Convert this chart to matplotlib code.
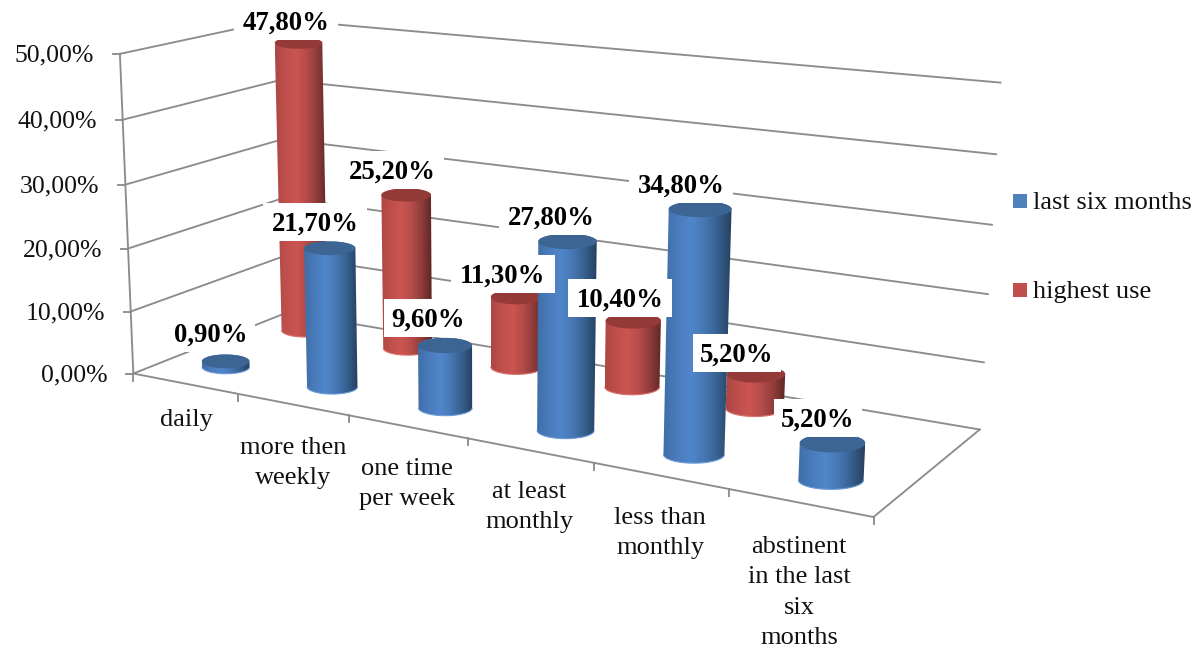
import numpy as np
import matplotlib
matplotlib.use("Agg")
import matplotlib.pyplot as plt
from matplotlib.colors import LinearSegmentedColormap
from matplotlib.patches import Polygon, Rectangle

plt.rcParams['font.family'] = ['Liberation Serif', 'DejaVu Serif']

categories = ["daily", "more then\nweekly", "one time\nper week", "at least\nmonthly",
              "less than\nmonthly", "abstinent\nin the last\nsix\nmonths"]
last_six_months = [0.9, 21.7, 9.6, 27.8, 34.8, 5.2]
highest_use = [47.8, 25.2, 11.3, 10.4, 5.2, None]
value_ticks = [0, 10, 20, 30, 40, 50]

GRID = '#8c8c8c'
LINE_W = 1.35
FONT_AXIS = 18.5
FONT_TEXT = 19
FONT_LABEL = 19.3

# box corners (category, depth, value) -> picture pixels, used to fit the 3d view
view_world = [(0, 0, 0), (0, 0, 50), (0, 1, 0), (0, 1, 50), (6, 1, 0), (6, 1, 50), (6, 0, 0),
              (1, 0, 0), (2, 0, 0), (3, 0, 0), (4, 0, 0)]
view_pixel = [(135, 372), (118, 53), (284, 314), (282, 20), (981, 427), (1000, 83), (873, 517),
              (239, 392), (350, 416), (467, 440), (593, 465)]


def fit_view(world, pixel):
    rows = []
    for (x, z, y), (u, v) in zip(world, pixel):
        p = [x, z, y, 1]
        rows.append(p + [0, 0, 0, 0] + [-u * c for c in p])
        rows.append([0, 0, 0, 0] + p + [-v * c for c in p])
    return np.linalg.svd(np.array(rows, dtype=float))[2][-1].reshape(3, 4)


VIEW = fit_view(view_world, view_pixel)


def project(x, z, y):
    x, z, y = np.broadcast_arrays(x, z, y)
    h = VIEW @ np.vstack([x.ravel(), z.ravel(), y.ravel(), np.ones(x.size)])
    return np.column_stack([h[0] / h[2], h[1] / h[2]])


def hull(points):
    pts = sorted(map(tuple, points))
    def half(seq):
        out = []
        for p in seq:
            while len(out) > 1 and ((out[-1][0] - out[-2][0]) * (p[1] - out[-2][1])
                                    - (out[-1][1] - out[-2][1]) * (p[0] - out[-2][0])) <= 0:
                out.pop()
            out.append(p)
        return out[:-1]
    return np.array(half(pts) + half(pts[::-1]))


def ellipse(x, depth, value):
    # the reference draws cylinder ends as level ellipses, a bit flatter higher up
    t = np.linspace(0, 2 * np.pi, 90)
    left, mid, right = project([x - 0.23, x, x + 0.23], depth, value)
    rx = (right[0] - left[0]) / 2
    ry = rx * (0.29 - 0.001 * value)
    return np.column_stack([mid[0] + rx * np.cos(t), mid[1] + ry * np.sin(t)])


def cylinder(ax, x, depth, value, side_cmap, top_color, rim_color):
    bottom = ellipse(x, depth, 0)
    top = ellipse(x, depth, value)
    outline = hull(np.vstack([bottom, top]))
    body = Polygon(outline, closed=True, fc='none', ec='none', transform=ax.transData)
    ax.add_patch(body)
    im = ax.imshow(np.linspace(0, 1, 128)[None, :], cmap=side_cmap, aspect='auto', zorder=3,
                   extent=(outline[:, 0].min(), outline[:, 0].max(), outline[:, 1].max(), outline[:, 1].min()))
    im.set_clip_path(body)
    low = bottom[bottom[:, 1] >= bottom[:, 1].mean()]
    low = low[np.argsort(low[:, 0])]
    ax.plot(low[:, 0], low[:, 1], color=rim_color, lw=0.8, zorder=3)
    ax.add_patch(Polygon(top, closed=True, fc=top_color, ec='none', zorder=3))


blue_side = LinearSegmentedColormap.from_list('b', ['#3f6ea8', '#4a7cbc', '#5086ca', '#4778b4', '#36608f', '#26405f'])
red_side = LinearSegmentedColormap.from_list('r', ['#ad4744', '#bf4f4c', '#cb5551', '#b54c49', '#8f3c3a', '#5c2625'])

fig = plt.figure(figsize=(11.94, 6.48), dpi=100)
ax = fig.add_axes([0, 0, 1, 1])

# walls and floor
for v in value_ticks:
    corner = project([0, 0, 6], [0, 1, 1], v)
    ax.plot(corner[:, 0], corner[:, 1], color=GRID, lw=LINE_W, zorder=1)
    stub = project(0, 0, v)[0]
    ax.plot([stub[0] - 7, stub[0]], [stub[1], stub[1]], color=GRID, lw=LINE_W, zorder=1)
    ax.text(stub[0] - 26, stub[1] + 2, f"{v},00%", ha='right', va='center', fontsize=FONT_AXIS, color='#111111')
axis_line = project([0, 0], [0, 0], [0, 50])
ax.plot(axis_line[:, 0], axis_line[:, 1], color=GRID, lw=LINE_W, zorder=1)
floor = project([0, 6, 6], [0, 0, 1], [0, 0, 0])
ax.plot(floor[:, 0], floor[:, 1], color=GRID, lw=LINE_W, zorder=1)
for i in range(len(categories) + 1):
    p = project(i, 0, 0)[0]
    ax.plot([p[0], p[0]], [p[1], p[1] + 7], color=GRID, lw=LINE_W, zorder=1)

# back row first, then the front row
for i, v in enumerate(highest_use):
    if v is not None:
        cylinder(ax, i + 0.44, 0.82, v, red_side, '#943a38', '#d9706c')
for i, v in enumerate(last_six_months):
    cylinder(ax, i + 0.505, 0.25, v, blue_side, '#3d6594', '#6a9bd8')

# category labels
label_x = [186, 293, 407, 529, 660, 799]
label_top = [409, 437, 458, 481, 507, 536]
for name, x, y in zip(categories, label_x, label_top):
    ax.text(x, y, name, ha='center', va='top', fontsize=FONT_TEXT, linespacing=1.49, color='#111111')

# value labels with their white boxes
blue_label_xy = [(211, 335), (315, 224), (428, 320), (551, 218), (681, 186), (818, 420)]
red_label_xy = [(286, 23), (392, 172), (503, 276), (620, 300), (737, 355)]
values = list(last_six_months) + [v for v in highest_use if v is not None]
for v, (x, y) in zip(values, blue_label_xy + red_label_xy):
    text = f"{v:.2f}%".replace('.', ',')
    w = 104 if len(text) == 6 else 88
    ax.add_patch(Rectangle((x - w / 2, y - 21), w, 38, fc='white', ec='none', zorder=4))
    ax.text(x, y, text, ha='center', va='center', fontsize=FONT_LABEL,
            fontweight='bold', zorder=5, color='black')

# legend
for y, name, color in [(201, "last six months", '#4f81bd'), (290, "highest use", '#c0504d')]:
    ax.add_patch(Rectangle((1013, y - 7), 14, 14, fc=color, ec='none'))
    ax.text(1033, y + 2, name, ha='left', va='center', fontsize=FONT_TEXT, color='#111111')

ax.set_xlim(0, 1194)
ax.set_ylim(648, 0)
ax.axis('off')
fig.savefig('out.png', dpi=100)
